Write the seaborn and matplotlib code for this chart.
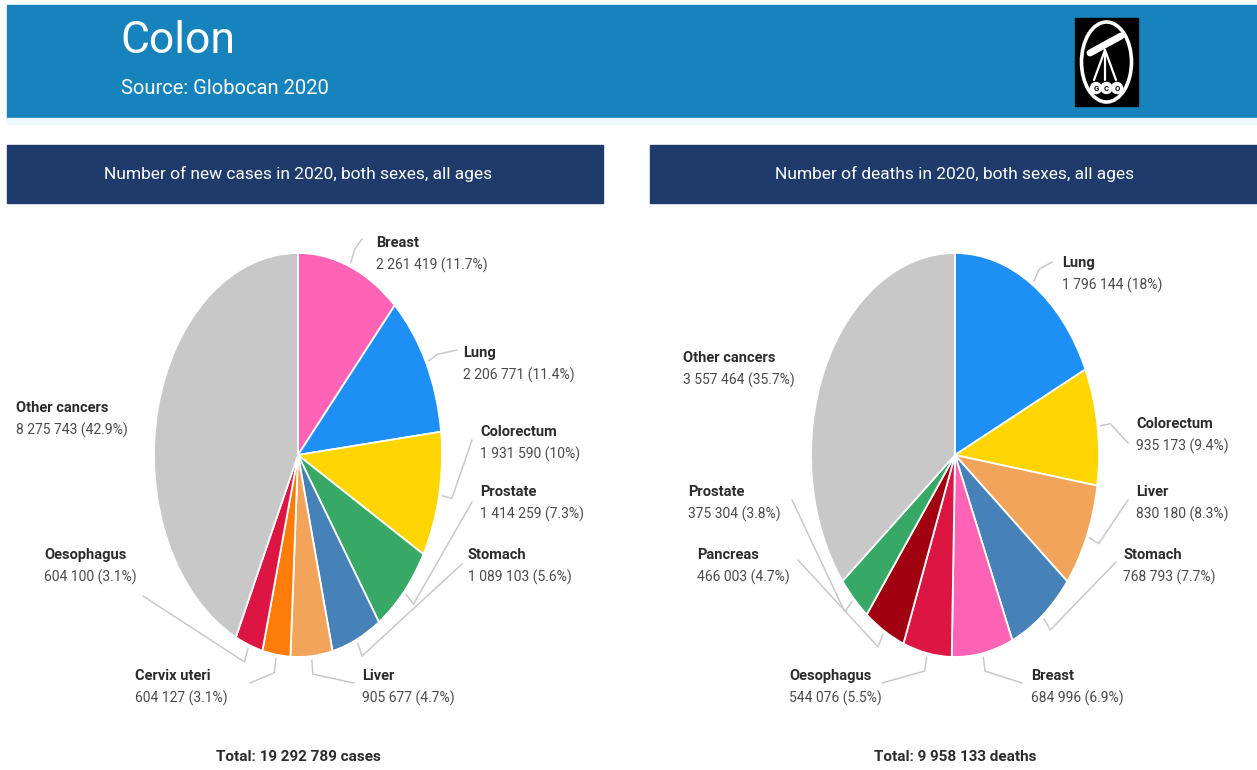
import numpy as np
import matplotlib
matplotlib.use("Agg")
import matplotlib.pyplot as plt
import seaborn as sns
from matplotlib import font_manager
from matplotlib.patches import Rectangle, Ellipse, Circle
from matplotlib.lines import Line2D

# ---------------------------------------------------------------- data
cases_sites = ["Breast", "Lung", "Colorectum", "Prostate", "Stomach",
               "Liver", "Cervix uteri", "Oesophagus", "Other cancers"]
cases_values = [2261419, 2206771, 1931590, 1414259, 1089103,
                905677, 604127, 604100, 8275743]

deaths_sites = ["Lung", "Colorectum", "Liver", "Stomach", "Breast",
                "Oesophagus", "Pancreas", "Prostate", "Other cancers"]
deaths_values = [1796144, 935173, 830180, 768793, 684996,
                 544076, 466003, 375304, 3557464]

site_colors = {
    "Breast": "#ff63b6", "Lung": "#1e8ff5", "Colorectum": "#ffd500",
    "Prostate": "#37a866", "Stomach": "#4682b8", "Liver": "#f1a45a",
    "Cervix uteri": "#ff7b0a", "Oesophagus": "#dc1543",
    "Pancreas": "#a0000f", "Other cancers": "#c8c8c8",
}

main_title = "Colon"
source_text = "Source: Globocan 2020"
panel_titles = ["Number of new cases in 2020, both sexes, all ages",
                "Number of deaths in 2020, both sexes, all ages"]
total_units = ["cases", "deaths"]

# ---------------------------------------------------------------- style
sns.set_theme(style="white")
installed = {f.name for f in font_manager.fontManager.ttflist}
base_font = "Roboto" if "Roboto" in installed else "DejaVu Sans"
plt.rcParams["font.family"] = [base_font, "DejaVu Sans"]
scale = 1.0 if base_font == "Roboto" else 0.9

W, H = 1257, 770
fig = plt.figure(figsize=(W / 100, H / 100), dpi=100)
fig.patch.set_facecolor("white")

# full-figure overlay working in pixel units (origin top-left)
ov = fig.add_axes([0, 0, 1, 1], zorder=0)
ov.set_xlim(0, W)
ov.set_ylim(H, 0)
ov.axis("off")

BANNER = "#1683bd"
NAVY = "#1f3b6c"
LEADER = "#c9c9c9"

# header banner
ov.add_patch(Rectangle((7, 5), W - 7, 113, color=BANNER, zorder=1))
ov.add_patch(Rectangle((7, 118), W - 7, 6, color="#eef8fb", zorder=1))
ov.text(120, 41, main_title, color="white", fontsize=32 * scale,
        va="center", ha="left", zorder=3)
ov.text(121, 89, source_text, color="white", fontsize=14.5 * scale,
        va="center", ha="left", zorder=3)

# logo
ov.add_patch(Rectangle((1075, 18), 63, 88, color="black", zorder=2))
ov.add_patch(Ellipse((1106.5, 62), 50, 80, fill=False, ec="white", lw=2.6, zorder=3))
ov.add_line(Line2D([1090, 1121], [53, 36], color="white", lw=5, solid_capstyle="round", zorder=3))
for xe in (1094, 1105, 1116):
    ov.add_line(Line2D([1105, xe], [50, 80], color="white", lw=1.6, zorder=3))
for xc, ch in zip((1096, 1106.5, 1117), "GCO"):
    ov.add_patch(Circle((xc, 88), 5.5, color="white", zorder=3))
    ov.text(xc, 88.5, ch, color="black", fontsize=5.5, fontweight="bold",
            ha="center", va="center", zorder=4)

# panel title bars
bars = [(7, 596), (650, W - 650)]
centers = [298, 955]
for (bx, bw), title, cx in zip(bars, panel_titles, centers):
    ov.add_patch(Rectangle((bx, 145), bw, 58, color=NAVY, zorder=1))
    ov.text(cx, 174, title, color="white", fontsize=12.5 * scale,
            ha="center", va="center", zorder=3)

# ---------------------------------------------------------------- pies
RX, RY, CY = 144, 202, 455

# label layout: name anchor (x, y), leader end point (x, y)
cases_layout = {
    "Breast": ((376, 243), (362, 239)),
    "Lung": ((463, 353), (457, 350)),
    "Colorectum": ((480, 432), (472, 440)),
    "Prostate": ((480, 492), (472, 502)),
    "Stomach": ((468, 555), (462, 564)),
    "Liver": ((362, 676), (354, 683)),
    "Cervix uteri": ((135, 676), (250, 683)),
    "Oesophagus": ((44, 555), (143, 596)),
    "Other cancers": ((16, 408), None),
}
deaths_layout = {
    "Lung": ((1062, 263), (1052, 262)),
    "Colorectum": ((1136, 424), (1128, 443)),
    "Liver": ((1136, 492), (1128, 500)),
    "Stomach": ((1123, 555), (1116, 562)),
    "Breast": ((1031, 676), (1022, 683)),
    "Oesophagus": ((789, 676), (882, 683)),
    "Pancreas": ((697, 555), (798, 560)),
    "Prostate": ((688, 492), (792, 500)),
    "Other cancers": ((683, 358), None),
}


def fmt_num(v):
    return f"{v:,}".replace(",", " ")


def fmt_pct(p):
    s = f"{p:.1f}"
    return s[:-2] if s.endswith(".0") else s


def draw_panel(cx, sites, values, layout, unit):
    ax = fig.add_axes([(cx - RX) / W, (H - (CY + RY)) / H, 2 * RX / W, 2 * RY / H],
                      zorder=2)
    ax.patch.set_alpha(0)
    colors = [site_colors[s] for s in sites]
    wedges, _ = ax.pie(values, colors=colors, startangle=90, counterclock=False,
                       radius=1.0,
                       wedgeprops=dict(edgecolor="white", linewidth=1.3))
    ax.set_aspect("auto")
    ax.set_xlim(-1, 1)
    ax.set_ylim(-1, 1)
    ax.axis("off")

    total = sum(values)
    for site, val, w in zip(sites, values, wedges):
        (lx, ly), end = layout[site]
        ov.text(lx, ly, site, fontsize=10.5 * scale, fontweight="bold",
                color="#2b2b2b", ha="left", va="center", zorder=3)
        ov.text(lx, ly + 22, f"{fmt_num(val)} ({fmt_pct(100 * val / total)}%)",
                fontsize=10 * scale, color="#4a4a4a", ha="left", va="center", zorder=3)
        if end is None:
            continue
        mid = np.deg2rad((w.theta1 + w.theta2) / 2)
        px0, py0 = cx + RX * 1.02 * np.cos(mid), CY - RY * 1.02 * np.sin(mid)
        px1, py1 = cx + RX * 1.09 * np.cos(mid), CY - RY * 1.09 * np.sin(mid)
        ov.add_line(Line2D([px0, px1, end[0]], [py0, py1, end[1]],
                           color=LEADER, lw=1.1, zorder=1))

    ov.text(cx, 757, f"Total: {fmt_num(total)} {unit}", fontsize=11 * scale,
            fontweight="bold", color="#2b2b2b", ha="center", va="center", zorder=3)


draw_panel(centers[0], cases_sites, cases_values, cases_layout, total_units[0])
draw_panel(centers[1], deaths_sites, deaths_values, deaths_layout, total_units[1])

fig.savefig("out.png", dpi=100, facecolor="white")
